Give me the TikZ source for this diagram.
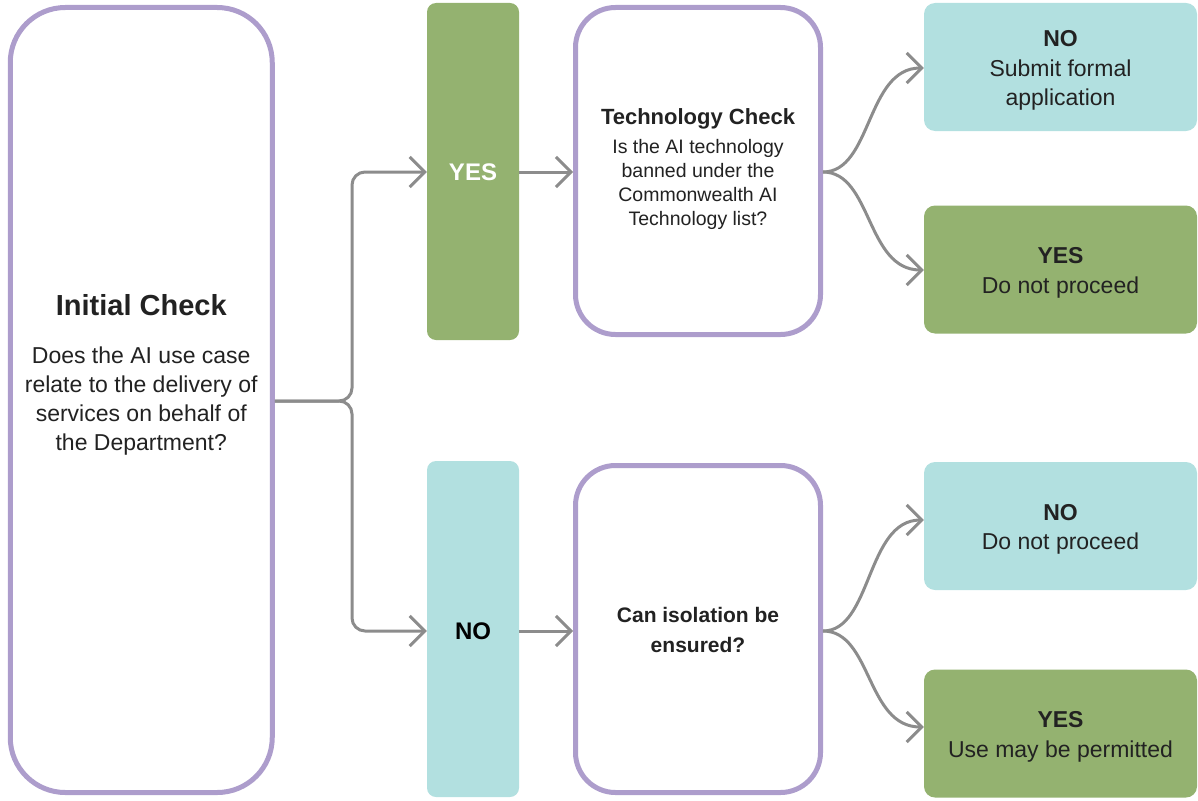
\documentclass[tikz,border=0pt]{standalone}
\usepackage{fontspec}
\setmainfont{Liberation Sans}
\usetikzlibrary{arrows.meta}
\definecolor{pgreen}{RGB}{148,178,112}
\definecolor{pteal}{RGB}{178,224,224}
\definecolor{ppurple}{RGB}{173,157,204}
\definecolor{pgray}{RGB}{140,140,140}
\definecolor{ptext}{RGB}{34,34,34}
\tikzset{
  qbox/.style={draw=ppurple, line width=5pt, fill=white, rounded corners=#1, inner sep=0pt},
  choicebox/.style={fill=#1, draw=none, rounded corners=9pt, inner sep=0pt},
  resbox/.style={fill=#1, draw=none, rounded corners=11pt, inner sep=0pt, minimum width=273pt, minimum height=128pt},
  restext/.style={inner sep=0pt, align=center, text=ptext, font=\fontsize{23}{29.5}\selectfont},
  conn/.style={draw=pgray, line width=3pt, -{Straight Barb[length=15pt,width=30pt,line width=3pt]}},
  txt/.style={inner sep=0pt, align=center, text=ptext, anchor=base},
  mtxt/.style={inner sep=0pt, align=center, text=ptext, anchor=center},
}
\begin{document}
\begin{tikzpicture}[x=1pt,y=-1pt]
\useasboundingbox (0,0) rectangle (1198,800);
% main boxes
\node[qbox=55pt, minimum width=262pt, minimum height=785pt] (init) at (141.25,400) {};
\node[txt, font=\fontsize{29}{34}\selectfont\bfseries] (inittitle) at (141.25,315) {Initial Check};
\node[mtxt, font=\fontsize{23}{29}\selectfont] (initbody) at (141.25,401.5) {Does the AI use case\\relate to the delivery of\\services on behalf of\\the Department?};

\node[choicebox=pgreen, minimum width=92pt, minimum height=337pt] (yes) at (473,171.5) {};
\node[txt, text=white, font=\fontsize{24}{29}\selectfont\bfseries] (yestext) at (473,180.5) {YES};
\node[choicebox=pteal, minimum width=92pt, minimum height=336pt] (no) at (473,629) {};
\node[txt, text=black, font=\fontsize{24}{29}\selectfont\bfseries] (notext) at (473,639.5) {NO};

\node[qbox=40pt, minimum width=245pt, minimum height=327pt] (tech) at (698,171) {};
\node[txt, font=\fontsize{22}{28}\selectfont\bfseries] (techtitle) at (698,124) {Technology Check};
\node[mtxt, font=\fontsize{19.5}{24}\selectfont] (techbody) at (698,184) {Is the AI technology\\banned under the\\Commonwealth AI\\Technology list?};

\node[qbox=40pt, minimum width=245pt, minimum height=327pt] (iso) at (698,629) {};
\node[mtxt, font=\fontsize{21}{30}\selectfont\bfseries] (isotext) at (698,630) {Can isolation be\\ensured?};

% result boxes
\node[resbox=pteal] (r1) at (1060.5,67) {};
\node[restext] (r1t) at (1060.5,70.5) {\textbf{NO}\\Submit formal\\application};
\node[resbox=pgreen] (r2) at (1060.5,269.5) {};
\node[restext] (r2t) at (1060.5,273) {\textbf{YES}\\Do not proceed};
\node[resbox=pteal] (r3) at (1060.5,526) {};
\node[restext] (r3t) at (1060.5,529.5) {\textbf{NO}\\Do not proceed};
\node[resbox=pgreen] (r4) at (1060.5,733.5) {};
\node[restext] (r4t) at (1060.5,737) {\textbf{YES}\\Use may be permitted};

% connectors
\coordinate (split) at (init.east |- 0,401);
\draw[conn, rounded corners=13pt] (split) -- (352,401) -- (352,172) -- (yes.west |- 0,172);
\draw[conn, rounded corners=13pt] (split) -- (352,401) -- (352,631) -- (no.west |- 0,631);
\draw[conn] (yes.east |- 0,172) -- (tech.west |- 0,172);
\draw[conn] (no.east |- 0,631) -- (iso.west |- 0,631);

\draw[conn] (tech.east |- 0,172) .. controls (872,172) and (866,68) .. (r1.west |- 0,68);
\draw[conn] (tech.east |- 0,172) .. controls (872,172) and (866,270) .. (r2.west |- 0,270);
\draw[conn] (iso.east |- 0,631) .. controls (872,631) and (866,520) .. (r3.west |- 0,520);
\draw[conn] (iso.east |- 0,631) .. controls (872,631) and (866,727) .. (r4.west |- 0,727);
\end{tikzpicture}
\end{document}
